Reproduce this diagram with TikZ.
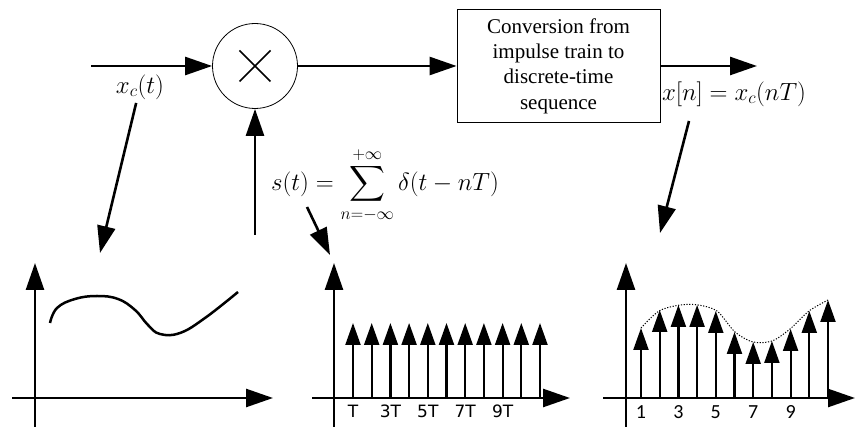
\documentclass[tikz,border=0pt]{standalone}
\usepackage{amsmath}
\usepackage{fontspec}
\setmainfont{Liberation Serif}
\newfontfamily\boxfont{Liberation Serif}
\newfontfamily\tickfont{DejaVu Sans}
\newfontfamily\numfont{Carlito}
\usetikzlibrary{arrows.meta,positioning}

\begin{document}
\begin{tikzpicture}[
    x=1pt, y=-1pt,
    sig/.style={line width=2.6pt, -{Triangle[length=27pt,width=18pt]}},
    axis/.style={line width=2.6pt, -{Triangle[length=27pt,width=18pt]}},
    stem/.style={line width=2.2pt, -{Triangle[length=22pt,width=15pt]}},
    lbl/.style={font=\fontsize{24}{28}\selectfont},
    tick/.style={font=\tickfont\fontsize{17}{20}\selectfont},
    num/.style={font=\numfont\fontsize{20}{24}\selectfont}
]
\useasboundingbox (0,0) rectangle (855,427);

% Block diagram
\coordinate (in) at (91,66);
\node[circle, draw, line width=0.8pt, minimum size=85pt, inner sep=0pt] (mult) at (255,66) {};
\draw[line width=1.6pt] (mult.center) ++(-15.5,-15.5) -- ++(31,31);
\draw[line width=1.6pt] (mult.center) ++(15.5,-15.5) -- ++(-31,31);
\node[draw, line width=0.8pt, minimum width=203pt, minimum height=113pt, inner sep=0pt,
      align=center, font=\boxfont\fontsize{21}{25.3}\selectfont] (conv) at (558.5,66)
      {Conversion from\\impulse train to\\discrete-time\\sequence};
\coordinate (out) at (757,66);
\coordinate (sin) at (255,235);

\draw[sig] (in) -- (mult);
\draw[sig] (mult) -- (conv);
\draw[sig] (conv) -- (out);
\draw[sig] (sin) -- (mult);

% Labels
\node[lbl] (xc) at (140,87) {$x_c(t)$};
\node[lbl] (st) at (385,185) {$s(t)=\displaystyle\sum_{n=-\infty}^{+\infty}\delta(t-nT)$};
\node[lbl] (xn) at (734,94) {$x[n]=x_c(nT)$};

% Pointers to the plots
\coordinate (c1) at (100,253);
\coordinate (s0) at (307,207);
\coordinate (c2) at (330,255);
\coordinate (xn0) at (689,121);
\coordinate (c3) at (660,233);
\draw[sig] (xc) -- (c1);
\draw[sig] (s0) -- (c2);
\draw[sig] (xn0) -- (c3);

% Continuous-time signal
\draw[axis] (12,398) -- (273,398);
\draw[axis] (35,427) -- (35,263);
\draw[line width=2.5pt] plot[smooth, tension=0.7] coordinates
    {(50,323) (57,308) (75,299) (97,296) (118,299) (135,310) (148,325) (160,334)
     (180,333) (205,318) (238,292)};

% Impulse train
\draw[axis] (312,398) -- (570,398);
\draw[axis] (334,427) -- (334,263);
\foreach \i in {0,...,10}
    \draw[stem] (353+\i*18.7,398) -- (353+\i*18.7,323);
\foreach \k/\t in {0/T,2/3T,4/5T,6/7T,8/9T}
    \node[tick] (t\k) at (353+\k*18.7,411) {\t};

% Sampled sequence
\draw[axis] (603,398) -- (855,398);
\draw[axis] (626,427) -- (626,263);
\foreach \i/\h in {0/328,1/310,2/305,3/305,4/311,5/332,6/342,7/341,8/329,9/311,10/300}
    \draw[stem] (641+\i*18.7,398) -- (641+\i*18.7,\h);
\draw[line width=1pt, dash pattern=on 1.2pt off 1.6pt] plot[smooth] coordinates
    {(641,328) (659,311) (680,305) (698,305) (717,311) (735,332) (753,342) (772,341) (790,329) (809,311) (828,300)};
\foreach \k/\t in {0/1,2/3,4/5,6/7,8/9}
    \node[num] (n\k) at (641+\k*18.7,412) {\t};

\end{tikzpicture}
\end{document}
